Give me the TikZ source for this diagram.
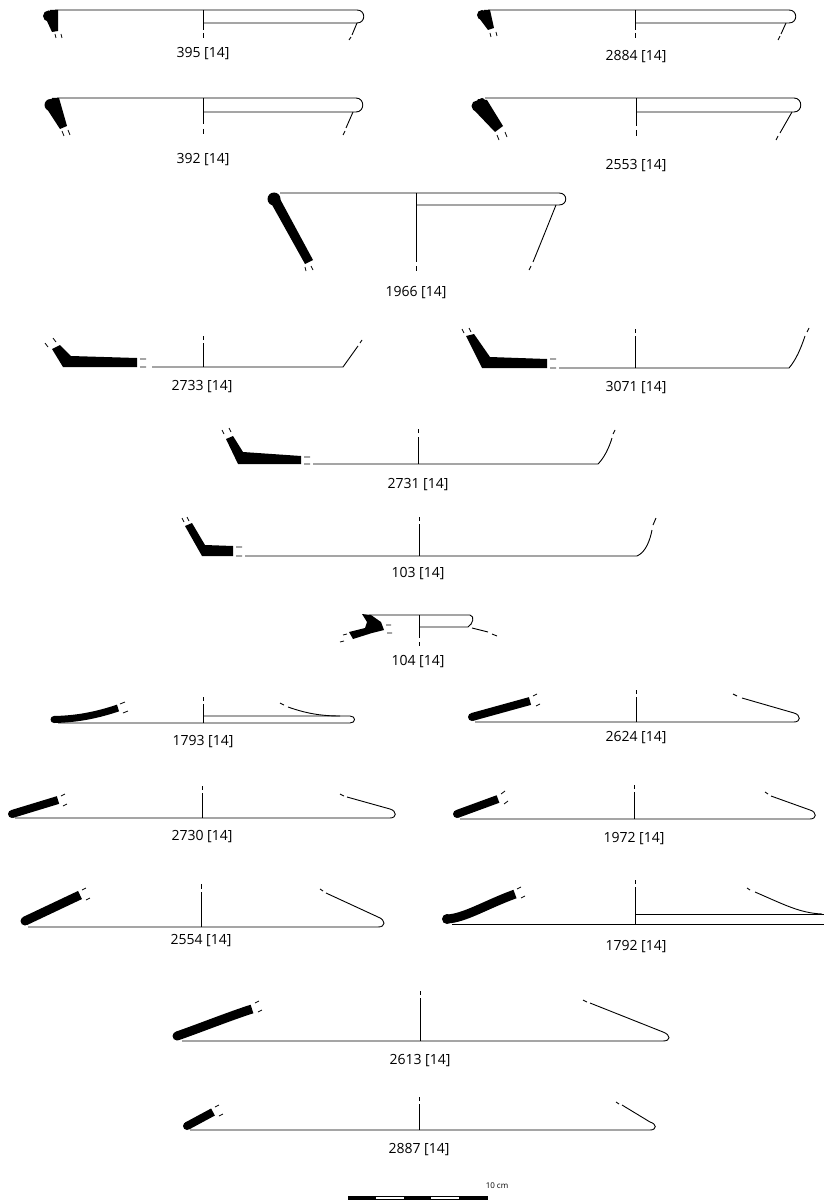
\documentclass[tikz,border=0pt]{standalone}
\usepackage{fontspec}
\setmainfont{Open Sans}
\begin{document}
\begin{tikzpicture}[x=1pt,y=-1pt,
    ln/.style={line width=0.9pt},
    brk/.style={line width=0.8pt},
    sherd/.style={line width=#1, line cap=butt},
    lbl/.style={font=\fontsize{14}{16}\selectfont, inner sep=0pt}]
  \useasboundingbox (0,0) rectangle (824,1201);

  % 395
  \fill (48.5,16) circle (5.5);
  \fill (46,19) -- (50,10) -- (58,10) -- (58,31) -- (52,32) -- cycle;
  \draw[brk] (55,34) -- (56,38) (61,34) -- (62,38);
  \draw[ln] (55,10) -- (357,10) .. controls (366,10) and (366,23) .. (357,23) -- (203,23);
  \draw[ln] (203,10) -- (203,30) (203,33) -- (203,38);
  \draw[ln] (357,23) -- (352,35) (351,37) -- (349,40);
  \node[lbl] (n395) at (203,54) {395 [14]};

  % 392
  \fill (50.5,105) circle (6);
  \fill (47,109) -- (52,98) -- (59,98) -- (67,126) -- (60,129) -- cycle;
  \draw[brk] (62,131) -- (64,136) (68,130) -- (70,135);
  \draw[ln] (57,98) -- (356,98) .. controls (365,98) and (365,112) .. (356,112) -- (203,112);
  \draw[ln] (203,98) -- (203,124) (203,129) -- (203,134);
  \draw[ln] (353,112) -- (346,128) (345,131) -- (343,135);
  \node[lbl] (n392) at (203,160) {392 [14]};

  % 2884
  \fill (482,15) circle (5);
  \fill (479,18) -- (484,10) -- (490,10) -- (494,28) -- (488,30) -- cycle;
  \draw[brk] (490,33) -- (491,37) (496,32) -- (497,36);
  \draw[ln] (488,10) -- (789,10) .. controls (798,10) and (798,23) .. (789,23) -- (635,23);
  \draw[ln] (635,10) -- (635,30) (635,33) -- (635,38);
  \draw[ln] (786,23) -- (781,34) (780,36) -- (778,40);
  \node[lbl] (n2884) at (636,57) {2884 [14]};

  % 2553
  \fill (477,106) circle (5.5);
  \fill (482,101) circle (3);
  \fill (473,109) -- (478,99) -- (487,100) -- (503,126) -- (495,132) -- cycle;
  \draw[brk] (497,135) -- (499,140) (505,132) -- (507,137);
  \draw[ln] (485,98) -- (794,98) .. controls (803,98) and (803,112) .. (794,112) -- (636,112);
  \draw[ln] (636,98) -- (636,126) (636,130) -- (636,136);
  \draw[ln] (792,112) -- (780,133) (778,136) -- (776,140);
  \node[lbl] (n2553) at (636,166) {2553 [14]};

  % 1966
  \fill (274,199) circle (6.5);
  \fill (271,203) -- (279,197) -- (313,260) -- (305,264) -- cycle;
  \draw[brk] (305,267) -- (306,271) (311,266) -- (313,270);
  \draw[ln] (280,193) -- (559,193) .. controls (568,193) and (568,205) .. (559,205) -- (416,205);
  \draw[ln] (416,193) -- (416,262) (416,266) -- (416,271);
  \draw[ln] (556,205) .. controls (548,225) and (540,245) .. (533,262) (531,266) -- (529,270);
  \node[lbl] (n1966) at (416,293) {1966 [14]};

  % 2733
  \fill (52,349) -- (60,345) -- (71,356) -- (137,358) -- (137,367) -- (63,367) -- cycle;
  \draw[brk] (45,343) -- (48,347) (53,338) -- (56,342) (140,359) -- (146,359) (140,367) -- (146,367);
  \draw[ln] (152,367) -- (343,367) -- (358,346) (360,343) -- (362,340);
  \draw[ln] (203,367) -- (203,343) (203,340) -- (203,336);
  \node[lbl] (n2733) at (202,387) {2733 [14]};

  % 3071
  \fill (466,336) -- (474,334) -- (490,357) -- (547,359) -- (547,368) -- (482,368) -- cycle;
  \draw[brk] (462,329) -- (464,333) (469,328) -- (471,332) (550,359) -- (556,359) (550,368) -- (556,368);
  \draw[ln] (559,368) -- (789,368) .. controls (796,360) and (801,348) .. (805,336) (807,332) -- (809,328);
  \draw[ln] (635,368) -- (635,336) (635,333) -- (635,329);
  \node[lbl] (n3071) at (636,388) {3071 [14]};

  % 2731
  \fill (226,439) -- (233,436) -- (243,452) -- (301,456) -- (301,464) -- (238,464) -- cycle;
  \draw[brk] (222,430) -- (224,434) (229,428) -- (231,432) (304,457) -- (310,457) (304,464) -- (310,464);
  \draw[ln] (313,464) -- (598,464) .. controls (604,458) and (609,448) .. (612,438) (613,434) -- (615,430);
  \draw[ln] (418,464) -- (418,437) (418,433) -- (418,429);
  \node[lbl] (n2731) at (418,485) {2731 [14]};

  % 103
  \fill (185,526) -- (192,523) -- (205,545) -- (233,546) -- (233,556) -- (202,556) -- cycle;
  \draw[brk] (182,518) -- (184,522) (187,517) -- (189,521) (236,547) -- (242,547) (236,556) -- (242,556);
  \draw[ln] (245,556) -- (637,556) .. controls (646,552) and (650,540) .. (652,530) (653,525) -- (656,518);
  \draw[ln] (419,556) -- (419,524) (419,521) -- (419,517);
  \node[lbl] (n103) at (418,574) {103 [14]};

  % 104
  \fill (362,614) -- (371,615) -- (381,622) -- (384,630) -- (372,633) -- (353,639) -- (349,632) -- (365,628) -- (367,622) -- cycle;
  \draw[brk] (343,635) -- (347,634) (340,642) -- (344,641) (386,625) -- (391,625) (387,633) -- (392,633);
  \draw[ln] (369,615) -- (470,615) .. controls (475,616) and (473,624) .. (468,627) -- (419,627);
  \draw[ln] (472,628) -- (488,632) (492,634) -- (497,636);
  \draw[ln] (419,615) -- (419,638) (419,642) -- (419,646);
  \node[lbl] (n104) at (418,662) {104 [14]};

  % 1793
  \draw[sherd=7pt] (54,719.5) .. controls (80,719) and (100,714) .. (118,708);
  \fill (54,719.5) circle (3.5);
  \draw[brk] (120,704) -- (125,702) (123,713) -- (128,711);
  \draw[ln] (58,723) -- (350,723) .. controls (356,723) and (356,716) .. (350,716) -- (203,716);
  \draw[ln] (203,723) -- (203,704) (203,701) -- (203,697);
  \draw[ln] (280,703) -- (284,705) (288,707) .. controls (305,713) and (320,716) .. (340,716);
  \node[lbl] (n1793) at (203,742) {1793 [14]};

  % 2624
  \draw[sherd=8pt] (472,717) -- (530,701);
  \fill (472,717) circle (4);
  \draw[brk] (533,696) -- (537,694) (536,706) -- (540,704);
  \draw[ln] (475,722) -- (794,722) .. controls (801,722) and (801,715) .. (794,713) -- (742,698) (737,696) -- (733,694);
  \draw[ln] (636,722) -- (636,697) (636,694) -- (636,690);
  \node[lbl] (n2624) at (636,738) {2624 [14]};

  % 2730
  \draw[sherd=8pt] (12,814) -- (58,800);
  \fill (12,814) circle (4);
  \draw[brk] (61,796) -- (65,794) (63,806) -- (67,804);
  \draw[ln] (15,818) -- (390,818) .. controls (397,818) and (397,811) .. (390,809) -- (347,797) (344,796) -- (340,794);
  \draw[ln] (202,818) -- (202,793) (202,790) -- (202,786);
  \node[lbl] (n2730) at (202,837) {2730 [14]};

  % 1972
  \draw[sherd=8pt] (457,814) -- (498,799);
  \fill (457,814) circle (4);
  \draw[brk] (501,794) -- (505,791) (504,804) -- (508,801);
  \draw[ln] (460,819) -- (810,819) .. controls (817,819) and (817,812) .. (810,810) -- (771,796) (768,794) -- (765,792);
  \draw[ln] (634,819) -- (634,792) (634,789) -- (634,785);
  \node[lbl] (n1972) at (634,839) {1972 [14]};

  % 2554
  \draw[sherd=9pt] (25,921) -- (80,895);
  \fill (25,921) circle (4.5);
  \draw[brk] (82,890) -- (86,888) (86,900) -- (90,898);
  \draw[ln] (28,927) -- (378,927) .. controls (386,927) and (386,920) .. (378,917) -- (326,893) (323,891) -- (320,889);
  \draw[ln] (201,927) -- (201,892) (201,889) -- (201,884);
  \node[lbl] (n2554) at (201,941) {2554 [14]};

  % 1792
  \draw[sherd=9pt] (447,919) .. controls (465,918) and (485,905) .. (515,894);
  \fill (447,919) circle (5);
  \draw[brk] (517,889) -- (521,887) (521,898) -- (525,896);
  \draw[ln] (452,924) -- (824,924) (635,914) -- (824,914);
  \draw[ln] (635,924) -- (635,887) (635,884) -- (635,880);
  \draw[ln] (747,888) -- (750,890) (755,892) .. controls (785,905) and (800,913) .. (822,914);
  \node[lbl] (n1792) at (636,947) {1792 [14]};

  % 2613
  \draw[sherd=9pt] (177,1036) .. controls (200,1028) and (230,1016) .. (252,1009);
  \fill (177,1036) circle (4.5);
  \draw[brk] (255,1003) -- (259,1001) (258,1012) -- (262,1010);
  \draw[ln] (182,1041) -- (663,1041) .. controls (671,1041) and (671,1035) .. (663,1032) -- (590,1003) (587,1002) -- (583,1000);
  \draw[ln] (420,1041) -- (420,998) (420,995) -- (420,991);
  \node[lbl] (n2613) at (420,1061) {2613 [14]};

  % 2887
  \draw[sherd=8pt] (187,1126) -- (213,1112);
  \fill (187,1126) circle (4);
  \draw[brk] (215,1107) -- (219,1105) (219,1116) -- (223,1114);
  \draw[ln] (190,1130) -- (650,1130) .. controls (657,1130) and (657,1124) .. (650,1122) -- (622,1105) (619,1104) -- (616,1102);
  \draw[ln] (419,1130) -- (419,1104) (419,1101) -- (419,1097);
  \node[lbl] (n2887) at (419,1150) {2887 [14]};

  % scale
  \draw[line width=0.6pt] (348,1196.5) rectangle (487,1199.5);
  \foreach \i in {0,2,4}
    \fill (348+27.8*\i,1196.5) rectangle ++(27.8,3);
  \node[font=\fontsize{8}{9}\selectfont] (bar) at (497,1186) {10 cm};
\end{tikzpicture}
\end{document}
